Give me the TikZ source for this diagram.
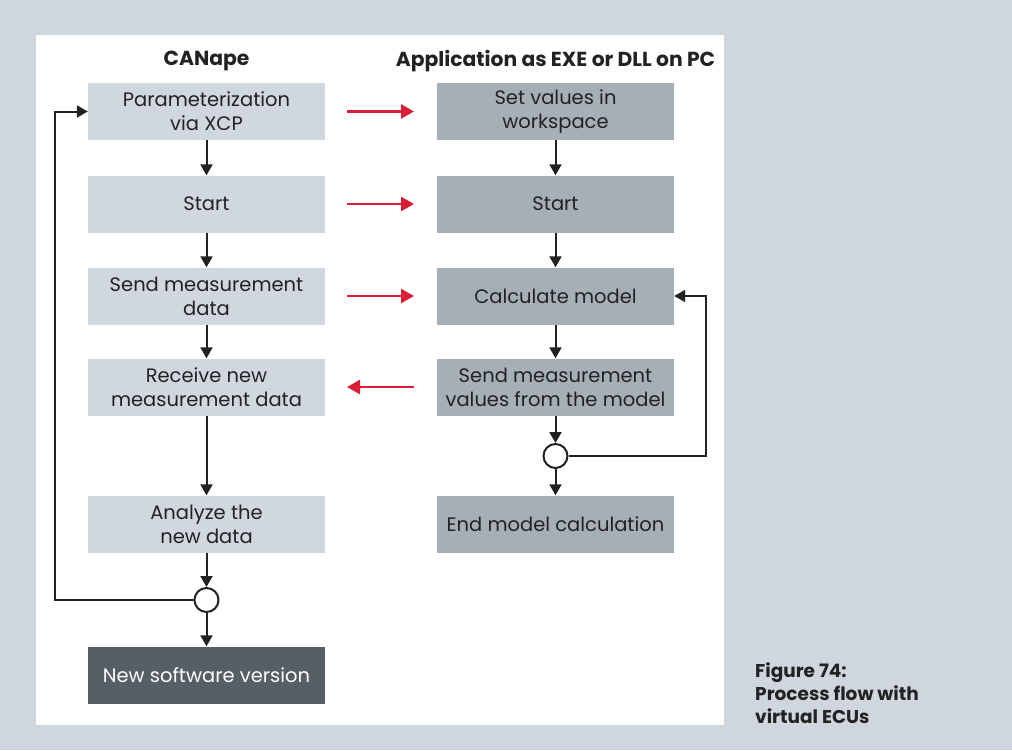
\documentclass[tikz,border=0pt]{standalone}
\usepackage{fontspec}
\setmainfont{Poppins}
\usetikzlibrary{arrows.meta}
\definecolor{bgc}{HTML}{CFD6DE}
\definecolor{lbox}{HTML}{D0D7DF}
\definecolor{rbox}{HTML}{A6AEB6}
\definecolor{dbox}{HTML}{565E66}
\definecolor{redc}{HTML}{DA1E37}
\definecolor{txt}{HTML}{222222}
\begin{document}
\begin{tikzpicture}[x=1pt,y=-1pt,
  box/.style={minimum width=237pt,minimum height=57pt,inner sep=0pt,align=center,text=txt,font=\fontsize{19.5}{24}\selectfont},
  lb/.style={box,fill=lbox},
  rb/.style={box,fill=rbox},
  db/.style={box,fill=dbox,text=white},
  hdr/.style={font=\fontsize{20.3}{22}\selectfont\bfseries,text=txt},
  flow/.style={line width=2pt,draw=txt,-{Triangle[width=12pt,length=11pt]}},
  loop/.style={line width=2pt,draw=txt},
  redarr/.style={line width=2.5pt,draw=redc,-{Triangle[width=14pt,length=13pt]}},
  junc/.style={circle,draw=txt,line width=2pt,fill=white,minimum size=24pt,inner sep=0pt}]
\useasboundingbox (0,0) rectangle (1012,750);
\fill[bgc] (0,0) rectangle (1012,750);
\fill[white] (36,35) rectangle (724,725);
\node[hdr] (h1) at (206.5,61) {CANape};
\node[hdr] (h2) at (555.5,61) {Application as EXE or DLL on PC};
% left column
\node[lb] (l1) at (206.5,111.5) {Parameterization\\via XCP};
\node[lb] (l2) at (206.5,204) {Start};
\node[lb] (l3) at (206.5,296) {Send measurement\\data};
\node[lb] (l4) at (206.5,387) {Receive new\\measurement data};
\node[lb] (l5) at (206.5,524) {Analyze the\\new data};
\node[junc] (lc) at (206.5,600) {};
\node[db] (l6) at (206.5,675) {New software version};
% right column
\node[rb] (r1) at (555.5,111.5) {Set values in\\workspace};
\node[rb] (r2) at (555.5,204) {Start};
\node[rb] (r3) at (555.5,296) {Calculate model};
\node[rb] (r4) at (555.5,387) {Send measurement\\values from the model};
\node[junc] (rc) at (555.5,456) {};
\node[rb] (r5) at (555.5,524) {End model calculation};
% caption
\node[anchor=north west,align=left,inner sep=0pt,text=txt,font=\fontsize{18.5}{23}\selectfont\bfseries] (cap) at (755,662) {Figure 74:\\Process flow with\\virtual ECUs};
% flows
\draw[flow] (l1) -- (l2);
\draw[flow] (l2) -- (l3);
\draw[flow] (l3) -- (l4);
\draw[flow] (l4) -- (l5);
\draw[flow] (l5) -- (lc);
\draw[flow] (lc) -- (l6);
\draw[flow] (r1) -- (r2);
\draw[flow] (r2) -- (r3);
\draw[flow] (r3) -- (r4);
\draw[flow] (r4) -- (rc);
\draw[flow] (rc) -- (r5);
% loops
\coordinate (lx) at (55,600);
\coordinate (rx) at (706,456);
\draw[loop,-{Triangle[width=12pt,length=11pt]}] (lc.west) -- (lx) |- (l1.west);
\draw[loop,-{Triangle[width=12pt,length=11pt]}] (rc.east) -- (rx) |- (r3.east);
% red arrows
\coordinate (a1s) at (347,111.5); \coordinate (a1e) at (414,111.5);
\coordinate (a2s) at (347,204); \coordinate (a2e) at (414,204);
\coordinate (a3s) at (347,296); \coordinate (a3e) at (414,296);
\coordinate (a4s) at (414,387); \coordinate (a4e) at (347,387);
\draw[redarr] (a1s) -- (a1e);
\draw[redarr] (a2s) -- (a2e);
\draw[redarr] (a3s) -- (a3e);
\draw[redarr] (a4s) -- (a4e);
\end{tikzpicture}
\end{document}
